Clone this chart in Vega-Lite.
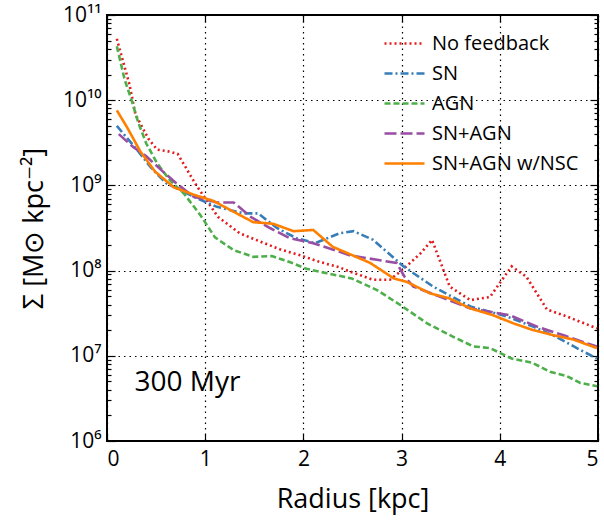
{
  "$schema": "https://vega.github.io/schema/vega-lite/v6.json",
  "width": 491,
  "height": 426,
  "autosize": {"type": "none"},
  "padding": {"left": 107, "top": 15, "right": 6, "bottom": 81},
  "background": "white",
  "config": {
    "view": {"stroke": "black", "strokeWidth": 2},
    "font": "Open Sans",
    "axis": {"domain": false, "labelColor": "black", "titleColor": "black", "tickColor": "black", "titleFontWeight": "normal"}
  },
  "datasets": {
    "profiles": [
      {"model": "No feedback", "r": 0.10, "s": 5.25e10},
      {"model": "No feedback", "r": 0.23, "s": 1.51e10},
      {"model": "No feedback", "r": 0.29, "s": 6.8e9},
      {"model": "No feedback", "r": 0.42, "s": 3.55e9},
      {"model": "No feedback", "r": 0.51, "s": 2.63e9},
      {"model": "No feedback", "r": 0.62, "s": 2.51e9},
      {"model": "No feedback", "r": 0.72, "s": 2.34e9},
      {"model": "No feedback", "r": 0.91, "s": 1.0e9},
      {"model": "No feedback", "r": 1.13, "s": 4.27e8},
      {"model": "No feedback", "r": 1.35, "s": 2.75e8},
      {"model": "No feedback", "r": 1.56, "s": 2.19e8},
      {"model": "No feedback", "r": 1.76, "s": 1.78e8},
      {"model": "No feedback", "r": 1.97, "s": 1.51e8},
      {"model": "No feedback", "r": 2.17, "s": 1.26e8},
      {"model": "No feedback", "r": 2.36, "s": 1.10e8},
      {"model": "No feedback", "r": 2.47, "s": 9.8e7},
      {"model": "No feedback", "r": 2.71, "s": 7.8e7},
      {"model": "No feedback", "r": 2.88, "s": 7.8e7},
      {"model": "No feedback", "r": 3.00, "s": 1.0e8},
      {"model": "No feedback", "r": 3.19, "s": 1.58e8},
      {"model": "No feedback", "r": 3.31, "s": 2.29e8},
      {"model": "No feedback", "r": 3.49, "s": 6.5e7},
      {"model": "No feedback", "r": 3.70, "s": 4.5e7},
      {"model": "No feedback", "r": 3.90, "s": 4.9e7},
      {"model": "No feedback", "r": 4.12, "s": 1.12e8},
      {"model": "No feedback", "r": 4.27, "s": 8.5e7},
      {"model": "No feedback", "r": 4.48, "s": 3.5e7},
      {"model": "No feedback", "r": 4.68, "s": 2.9e7},
      {"model": "No feedback", "r": 4.99, "s": 2.1e7},
      {"model": "SN", "r": 0.10, "s": 5.0e9},
      {"model": "SN", "r": 0.32, "s": 2.5e9},
      {"model": "SN", "r": 0.44, "s": 1.66e9},
      {"model": "SN", "r": 0.52, "s": 1.32e9},
      {"model": "SN", "r": 0.61, "s": 1.05e9},
      {"model": "SN", "r": 0.74, "s": 8.9e8},
      {"model": "SN", "r": 0.91, "s": 7.1e8},
      {"model": "SN", "r": 1.12, "s": 5.6e8},
      {"model": "SN", "r": 1.39, "s": 4.7e8},
      {"model": "SN", "r": 1.54, "s": 4.7e8},
      {"model": "SN", "r": 1.73, "s": 3.16e8},
      {"model": "SN", "r": 1.93, "s": 2.4e8},
      {"model": "SN", "r": 2.12, "s": 2.1e8},
      {"model": "SN", "r": 2.37, "s": 2.75e8},
      {"model": "SN", "r": 2.51, "s": 2.9e8},
      {"model": "SN", "r": 2.71, "s": 2.3e8},
      {"model": "SN", "r": 3.02, "s": 1.12e8},
      {"model": "SN", "r": 3.32, "s": 6.5e7},
      {"model": "SN", "r": 3.70, "s": 3.8e7},
      {"model": "SN", "r": 4.07, "s": 2.9e7},
      {"model": "SN", "r": 4.34, "s": 2.2e7},
      {"model": "SN", "r": 4.58, "s": 1.66e7},
      {"model": "SN", "r": 4.82, "s": 1.17e7},
      {"model": "SN", "r": 4.99, "s": 9.3e6},
      {"model": "AGN", "r": 0.10, "s": 4.3e10},
      {"model": "AGN", "r": 0.18, "s": 1.74e10},
      {"model": "AGN", "r": 0.25, "s": 1.0e10},
      {"model": "AGN", "r": 0.32, "s": 5.4e9},
      {"model": "AGN", "r": 0.40, "s": 3.1e9},
      {"model": "AGN", "r": 0.51, "s": 1.82e9},
      {"model": "AGN", "r": 0.64, "s": 1.15e9},
      {"model": "AGN", "r": 0.78, "s": 8.1e8},
      {"model": "AGN", "r": 0.95, "s": 4.5e8},
      {"model": "AGN", "r": 1.10, "s": 2.45e8},
      {"model": "AGN", "r": 1.29, "s": 1.74e8},
      {"model": "AGN", "r": 1.49, "s": 1.45e8},
      {"model": "AGN", "r": 1.68, "s": 1.48e8},
      {"model": "AGN", "r": 1.86, "s": 1.26e8},
      {"model": "AGN", "r": 2.03, "s": 1.05e8},
      {"model": "AGN", "r": 2.24, "s": 9.3e7},
      {"model": "AGN", "r": 2.49, "s": 8.1e7},
      {"model": "AGN", "r": 2.75, "s": 5.9e7},
      {"model": "AGN", "r": 2.98, "s": 4.0e7},
      {"model": "AGN", "r": 3.26, "s": 2.4e7},
      {"model": "AGN", "r": 3.53, "s": 1.66e7},
      {"model": "AGN", "r": 3.73, "s": 1.29e7},
      {"model": "AGN", "r": 3.90, "s": 1.23e7},
      {"model": "AGN", "r": 4.12, "s": 9.3e6},
      {"model": "AGN", "r": 4.33, "s": 8.3e6},
      {"model": "AGN", "r": 4.51, "s": 6.5e6},
      {"model": "AGN", "r": 4.68, "s": 5.8e6},
      {"model": "AGN", "r": 4.82, "s": 4.8e6},
      {"model": "AGN", "r": 4.99, "s": 4.4e6},
      {"model": "SN+AGN", "r": 0.12, "s": 4.0e9},
      {"model": "SN+AGN", "r": 0.27, "s": 2.8e9},
      {"model": "SN+AGN", "r": 0.40, "s": 2.2e9},
      {"model": "SN+AGN", "r": 0.57, "s": 1.45e9},
      {"model": "SN+AGN", "r": 0.71, "s": 1.05e9},
      {"model": "SN+AGN", "r": 0.88, "s": 7.4e8},
      {"model": "SN+AGN", "r": 1.12, "s": 6.3e8},
      {"model": "SN+AGN", "r": 1.29, "s": 6.3e8},
      {"model": "SN+AGN", "r": 1.46, "s": 4.3e8},
      {"model": "SN+AGN", "r": 1.66, "s": 3.16e8},
      {"model": "SN+AGN", "r": 1.86, "s": 2.4e8},
      {"model": "SN+AGN", "r": 2.10, "s": 2.1e8},
      {"model": "SN+AGN", "r": 2.37, "s": 1.66e8},
      {"model": "SN+AGN", "r": 2.47, "s": 1.51e8},
      {"model": "SN+AGN", "r": 2.78, "s": 1.32e8},
      {"model": "SN+AGN", "r": 2.95, "s": 1.23e8},
      {"model": "SN+AGN", "r": 3.03, "s": 8.5e7},
      {"model": "SN+AGN", "r": 3.12, "s": 6.5e7},
      {"model": "SN+AGN", "r": 3.36, "s": 5.1e7},
      {"model": "SN+AGN", "r": 3.70, "s": 3.6e7},
      {"model": "SN+AGN", "r": 4.10, "s": 3.0e7},
      {"model": "SN+AGN", "r": 4.38, "s": 2.2e7},
      {"model": "SN+AGN", "r": 4.65, "s": 1.74e7},
      {"model": "SN+AGN", "r": 4.88, "s": 1.41e7},
      {"model": "SN+AGN", "r": 4.99, "s": 1.29e7},
      {"model": "SN+AGN w/NSC", "r": 0.10, "s": 7.6e9},
      {"model": "SN+AGN w/NSC", "r": 0.20, "s": 4.9e9},
      {"model": "SN+AGN w/NSC", "r": 0.34, "s": 2.5e9},
      {"model": "SN+AGN w/NSC", "r": 0.49, "s": 1.45e9},
      {"model": "SN+AGN w/NSC", "r": 0.68, "s": 9.5e8},
      {"model": "SN+AGN w/NSC", "r": 0.88, "s": 7.8e8},
      {"model": "SN+AGN w/NSC", "r": 1.08, "s": 6.6e8},
      {"model": "SN+AGN w/NSC", "r": 1.29, "s": 4.9e8},
      {"model": "SN+AGN w/NSC", "r": 1.49, "s": 3.7e8},
      {"model": "SN+AGN w/NSC", "r": 1.69, "s": 3.55e8},
      {"model": "SN+AGN w/NSC", "r": 1.90, "s": 2.9e8},
      {"model": "SN+AGN w/NSC", "r": 2.10, "s": 3.0e8},
      {"model": "SN+AGN w/NSC", "r": 2.30, "s": 1.9e8},
      {"model": "SN+AGN w/NSC", "r": 2.68, "s": 1.23e8},
      {"model": "SN+AGN w/NSC", "r": 2.92, "s": 8.1e7},
      {"model": "SN+AGN w/NSC", "r": 3.05, "s": 7.4e7},
      {"model": "SN+AGN w/NSC", "r": 3.29, "s": 5.4e7},
      {"model": "SN+AGN w/NSC", "r": 3.49, "s": 4.7e7},
      {"model": "SN+AGN w/NSC", "r": 3.70, "s": 3.6e7},
      {"model": "SN+AGN w/NSC", "r": 3.93, "s": 3.0e7},
      {"model": "SN+AGN w/NSC", "r": 4.14, "s": 2.4e7},
      {"model": "SN+AGN w/NSC", "r": 4.34, "s": 2.0e7},
      {"model": "SN+AGN w/NSC", "r": 4.55, "s": 1.74e7},
      {"model": "SN+AGN w/NSC", "r": 4.75, "s": 1.55e7},
      {"model": "SN+AGN w/NSC", "r": 4.99, "s": 1.23e7}
    ],
    "annotation": [
      {"label": "300 Myr", "r": 0.28, "s": 4.8e6}
    ]
  },
  "layer": [
    {
      "data": {"name": "profiles"},
      "mark": {"type": "line", "strokeWidth": 2.6, "clip": true},
      "encoding": {
        "x": {
          "field": "r", "type": "quantitative",
          "scale": {"domain": [0, 5], "nice": false, "zero": false},
          "axis": {
            "orient": "bottom", "values": [0, 1, 2, 3, 4, 5], "format": "d",
            "grid": true, "gridColor": "black", "gridDash": [1.5, 4], "gridWidth": 1.2,
            "tickSize": -7, "tickWidth": 1.2, "labelFontSize": 21, "labelPadding": 14,
            "title": "Radius [kpc]", "titleFontSize": 27, "titlePadding": 17
          }
        },
        "y": {
          "field": "s", "type": "quantitative",
          "scale": {"type": "log", "domain": [1e6, 1e11], "nice": false},
          "axis": {
            "orient": "left",
            "values": [1e6, 2e6, 3e6, 4e6, 5e6, 6e6, 7e6, 8e6, 9e6, 1e7, 2e7, 3e7, 4e7, 5e7, 6e7, 7e7, 8e7, 9e7, 1e8, 2e8, 3e8, 4e8, 5e8, 6e8, 7e8, 8e8, 9e8, 1e9, 2e9, 3e9, 4e9, 5e9, 6e9, 7e9, 8e9, 9e9, 1e10, 2e10, 3e10, 4e10, 5e10, 6e10, 7e10, 8e10, 9e10, 1e11],
            "labelExpr": "abs(log(datum.value)/LN10 - round(log(datum.value)/LN10)) < 0.001 ? '10' + ['⁶','⁷','⁸','⁹','¹⁰','¹¹'][round(log(datum.value)/LN10) - 6] : ''",
            "grid": true, "gridColor": "black", "gridDash": [1.5, 4], "gridWidth": 1.2,
            "gridOpacity": {"condition": {"test": "abs(log(datum.value)/LN10 - round(log(datum.value)/LN10)) < 0.001", "value": 1}, "value": 0},
            "tickSize": {"condition": {"test": "abs(log(datum.value)/LN10 - round(log(datum.value)/LN10)) < 0.001", "value": -8}, "value": -4},
            "tickWidth": 1.2, "labelFontSize": 21, "labelPadding": 14,
            "title": "Σ [M⊙ kpc⁻²]", "titleFontSize": 27, "titlePadding": 14
          }
        },
        "color": {
          "field": "model", "type": "nominal",
          "scale": {
            "domain": ["No feedback", "SN", "AGN", "SN+AGN", "SN+AGN w/NSC"],
            "range": ["#e41a1c", "#377eb8", "#4daf4a", "#984ea3", "#ff7f00"]
          },
          "legend": {
            "orient": "none", "legendX": 286, "legendY": 17, "title": null,
            "symbolType": "M-2,0L2,0", "symbolSize": 400, "symbolStrokeWidth": 2.6,
            "labelFontSize": 20, "labelColor": "black", "rowPadding": 8, "labelOffset": 16,
            "fillColor": null
          }
        },
        "strokeDash": {
          "field": "model", "type": "nominal",
          "scale": {
            "domain": ["No feedback", "SN", "AGN", "SN+AGN", "SN+AGN w/NSC"],
            "range": [[2, 3], [8, 3, 2, 3], [6, 3], [12, 4], [1, 0]]
          },
          "legend": null
        },
        "order": {"field": "r", "type": "quantitative"}
      }
    },
    {
      "data": {"name": "annotation"},
      "mark": {"type": "text", "align": "left", "baseline": "middle", "fontSize": 28, "color": "black", "font": "Open Sans"},
      "encoding": {
        "x": {
          "field": "r", "type": "quantitative",
          "scale": {"domain": [0, 5], "nice": false, "zero": false},
          "axis": {"orient": "top", "values": [0, 1, 2, 3, 4, 5], "labels": false, "title": null, "grid": false, "tickSize": -7, "tickWidth": 1.2}
        },
        "y": {
          "field": "s", "type": "quantitative",
          "scale": {"type": "log", "domain": [1e6, 1e11], "nice": false},
          "axis": {
            "orient": "right", "labels": false, "title": null, "grid": false,
            "values": [1e6, 2e6, 3e6, 4e6, 5e6, 6e6, 7e6, 8e6, 9e6, 1e7, 2e7, 3e7, 4e7, 5e7, 6e7, 7e7, 8e7, 9e7, 1e8, 2e8, 3e8, 4e8, 5e8, 6e8, 7e8, 8e8, 9e8, 1e9, 2e9, 3e9, 4e9, 5e9, 6e9, 7e9, 8e9, 9e9, 1e10, 2e10, 3e10, 4e10, 5e10, 6e10, 7e10, 8e10, 9e10, 1e11],
            "tickSize": {"condition": {"test": "abs(log(datum.value)/LN10 - round(log(datum.value)/LN10)) < 0.001", "value": -8}, "value": -4},
            "tickWidth": 1.2
          }
        },
        "text": {"field": "label", "type": "nominal"}
      }
    }
  ],
  "resolve": {"axis": {"x": "independent", "y": "independent"}}
}
